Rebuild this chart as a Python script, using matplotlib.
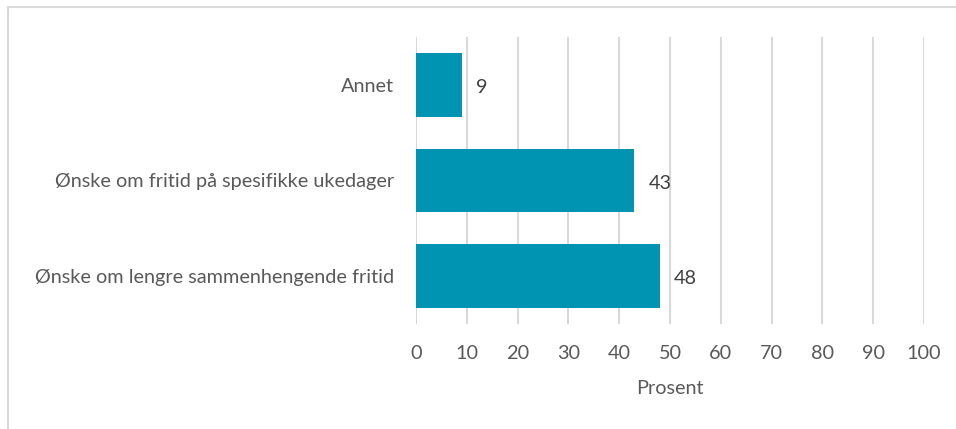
import matplotlib
matplotlib.use("Agg")
from matplotlib import pyplot as plt
from matplotlib.patches import Rectangle

categories = ["Ønske om lengre sammenhengende fritid",
              "Ønske om fritid på spesifikke ukedager",
              "Annet"]
values = [48, 43, 9]
x_ticks = list(range(0, 101, 10))

BAR = "#0093b2"
TEXT = "#595959"
GRID = "#d9d9d9"
FS = 14.3

plt.rcParams["font.family"] = ["Lato", "DejaVu Sans"]

fig = plt.figure(figsize=(9.56, 4.29), dpi=100)
ax = fig.add_axes([416 / 956, 1 - 324 / 429, 508 / 956, 287 / 429])

ypos = range(len(categories))
bars = ax.barh(ypos, values, height=0.667, color=BAR, zorder=3)

# value labels next to each bar end
for y, v in zip(ypos, values):
    ax.annotate(str(v), (v, y), xytext=(10, -2), textcoords="offset points",
                ha="left", va="center", fontsize=FS, color="#404040")

ax.set_xlim(0, 100)
ax.set_ylim(-0.5, len(categories) - 0.5)
ax.set_xticks(x_ticks)
ax.set_yticks(list(ypos))
ax.set_yticklabels(categories)
ax.tick_params(axis="both", length=0, labelsize=FS, labelcolor=TEXT)
ax.tick_params(axis="x", pad=15)
ax.tick_params(axis="y", pad=16)
ax.xaxis.grid(True, color=GRID, linewidth=1.5, zorder=0)
ax.set_axisbelow(True)
for s in ax.spines.values():
    s.set_visible(False)
ax.set_xlabel("Prosent", fontsize=FS, color=TEXT, labelpad=13)

# light frame around the chart area
fig.patches.append(Rectangle((8 / 956, -0.2), 1.2, 1.2 - 7 / 429, transform=fig.transFigure,
                             fill=False, edgecolor=GRID, linewidth=1.5))

fig.savefig("out.png", dpi=100)
